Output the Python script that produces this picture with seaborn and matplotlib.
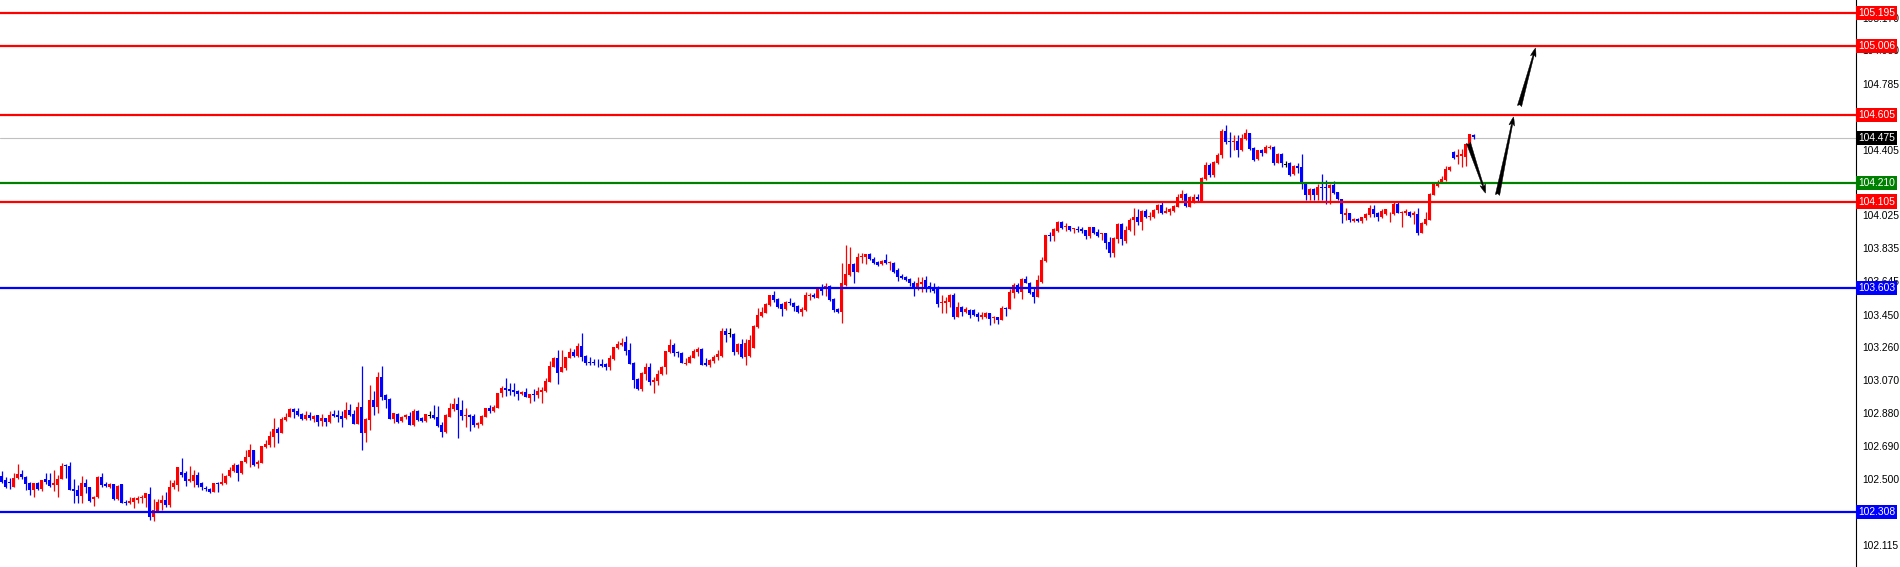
import numpy as np
import pandas as pd
import matplotlib
matplotlib.use("Agg")
import matplotlib.pyplot as plt
import seaborn as sns

# === 1. candle data (one bar per 4 px) ===
opens = [
    102.516, 102.492, 102.483, 102.454, 102.502, 102.527, 102.512, 102.473, 102.434, 102.473,
    102.438, 102.496, 102.492, 102.463, 102.463, 102.496, 102.579, 102.573, 102.438, 102.434,
    102.400, 102.473, 102.454, 102.381, 102.392, 102.512, 102.469, 102.454, 102.469, 102.381,
    102.469, 102.367, 102.357, 102.367, 102.377, 102.386, 102.386, 102.411, 102.276, 102.315,
    102.361, 102.377, 102.348, 102.454, 102.463, 102.541, 102.531, 102.489, 102.489, 102.521,
    102.473, 102.444, 102.438, 102.425, 102.477, 102.467, 102.473, 102.516, 102.546, 102.579,
    102.531, 102.599, 102.624, 102.666, 102.585, 102.591, 102.682, 102.695, 102.744, 102.788,
    102.767, 102.840, 102.856, 102.902, 102.892, 102.873, 102.846, 102.869, 102.846, 102.869,
    102.836, 102.854, 102.830, 102.875, 102.869, 102.863, 102.850, 102.898, 102.875, 102.817,
    102.913, 102.767, 102.840, 102.956, 102.913, 103.087, 102.985, 102.962, 102.846, 102.875,
    102.834, 102.855, 102.865, 102.811, 102.892, 102.854, 102.834, 102.865, 102.869, 102.855,
    102.811, 102.772, 102.859, 102.902, 102.933, 102.898, 102.865, 102.869, 102.863, 102.811,
    102.817, 102.859, 102.908, 102.894, 102.911, 102.994, 103.023, 103.018, 103.014, 103.008,
    102.991, 103.004, 102.965, 102.991, 102.985, 103.004, 103.008, 103.062, 103.149, 103.197,
    103.120, 103.139, 103.201, 103.236, 103.211, 103.268, 103.211, 103.178, 103.178, 103.172,
    103.162, 103.162, 103.149, 103.191, 103.255, 103.274, 103.293, 103.245, 103.172, 103.075,
    103.017, 103.106, 103.149, 103.062, 103.068, 103.106, 103.145, 103.236, 103.274, 103.234,
    103.230, 103.164, 103.172, 103.197, 103.236, 103.249, 103.168, 103.158, 103.183, 103.203,
    103.210, 103.355, 103.336, 103.338, 103.236, 103.280, 103.207, 103.210, 103.255, 103.376,
    103.442, 103.461, 103.506, 103.564, 103.539, 103.512, 103.481, 103.525, 103.519, 103.500,
    103.467, 103.477, 103.558, 103.564, 103.548, 103.608, 103.608, 103.616, 103.539, 103.481,
    103.467, 103.622, 103.679, 103.743, 103.699, 103.782, 103.782, 103.801, 103.770, 103.757,
    103.743, 103.766, 103.747, 103.751, 103.708, 103.674, 103.670, 103.655, 103.635, 103.608,
    103.628, 103.651, 103.616, 103.608, 103.612, 103.516, 103.516, 103.525, 103.564, 103.435,
    103.496, 103.467, 103.477, 103.477, 103.454, 103.435, 103.435, 103.458, 103.429, 103.435,
    103.419, 103.490, 103.483, 103.577, 103.622, 103.583, 103.655, 103.631, 103.583, 103.554,
    103.641, 103.763, 103.911, 103.905, 103.936, 103.988, 103.956, 103.963, 103.944, 103.948,
    103.944, 103.940, 103.905, 103.956, 103.931, 103.917, 103.925, 103.873, 103.809, 103.888,
    103.975, 103.878, 103.940, 103.998, 104.017, 103.988, 104.052, 104.014, 104.014, 104.056,
    104.085, 104.041, 104.046, 104.052, 104.071, 104.124, 104.149, 104.075, 104.098, 104.129,
    104.110, 104.233, 104.316, 104.258, 104.330, 104.374, 104.515, 104.457, 104.451, 104.457,
    104.403, 104.465, 104.500, 104.413, 104.349, 104.403, 104.388, 104.413, 104.422, 104.330,
    104.380, 104.316, 104.330, 104.264, 104.310, 104.303, 104.214, 104.143, 104.175, 104.143,
    104.191, 104.191, 104.181, 104.200, 104.162, 104.117, 104.027, 104.040, 103.994, 104.002,
    103.994, 104.007, 104.027, 104.060, 104.040, 104.013, 104.033, 104.036, 104.033, 104.090,
    104.040, 104.040, 104.046, 104.027, 104.033, 103.924, 103.975, 103.998, 104.143, 104.195,
    104.214, 104.229, 104.287, 104.393, 104.361, 104.368, 104.365, 104.432, 104.490,
]
highs = [
    102.546, 102.512, 102.502, 102.535, 102.585, 102.550, 102.516, 102.483, 102.477, 102.483,
    102.492, 102.531, 102.531, 102.550, 102.521, 102.593, 102.585, 102.599, 102.496, 102.463,
    102.516, 102.496, 102.454, 102.400, 102.516, 102.535, 102.483, 102.477, 102.469, 102.463,
    102.469, 102.377, 102.396, 102.396, 102.400, 102.406, 102.419, 102.454, 102.381, 102.381,
    102.406, 102.425, 102.492, 102.492, 102.570, 102.618, 102.546, 102.573, 102.550, 102.541,
    102.483, 102.458, 102.444, 102.477, 102.483, 102.531, 102.521, 102.570, 102.589, 102.585,
    102.604, 102.666, 102.701, 102.666, 102.608, 102.689, 102.724, 102.778, 102.850, 102.801,
    102.856, 102.879, 102.908, 102.908, 102.908, 102.879, 102.892, 102.884, 102.869, 102.869,
    102.875, 102.854, 102.894, 102.898, 102.898, 102.894, 102.946, 102.933, 102.898, 102.946,
    103.153, 102.850, 103.043, 103.010, 103.120, 103.153, 102.991, 102.965, 102.882, 102.879,
    102.863, 102.875, 102.884, 102.902, 102.898, 102.859, 102.875, 102.892, 102.927, 102.921,
    102.830, 102.873, 102.936, 102.965, 102.975, 102.956, 102.908, 102.875, 102.873, 102.830,
    102.869, 102.911, 102.927, 102.927, 102.998, 103.037, 103.081, 103.056, 103.052, 103.014,
    103.010, 103.023, 102.991, 103.018, 103.033, 103.033, 103.085, 103.184, 103.207, 103.245,
    103.245, 103.207, 103.255, 103.249, 103.284, 103.342, 103.216, 103.203, 103.191, 103.191,
    103.191, 103.172, 103.216, 103.265, 103.299, 103.313, 103.326, 103.284, 103.178, 103.081,
    103.120, 103.172, 103.168, 103.091, 103.129, 103.153, 103.241, 103.311, 103.284, 103.241,
    103.236, 103.197, 103.216, 103.249, 103.261, 103.255, 103.197, 103.191, 103.216, 103.245,
    103.371, 103.371, 103.371, 103.342, 103.284, 103.307, 103.307, 103.332, 103.390, 103.486,
    103.492, 103.515, 103.564, 103.589, 103.544, 103.519, 103.531, 103.544, 103.525, 103.506,
    103.492, 103.583, 103.577, 103.573, 103.608, 103.627, 103.635, 103.622, 103.544, 103.486,
    103.747, 103.853, 103.844, 103.751, 103.809, 103.809, 103.801, 103.809, 103.782, 103.762,
    103.766, 103.801, 103.762, 103.757, 103.718, 103.685, 103.674, 103.660, 103.647, 103.670,
    103.670, 103.674, 103.641, 103.631, 103.616, 103.564, 103.554, 103.570, 103.574, 103.523,
    103.500, 103.492, 103.481, 103.481, 103.467, 103.467, 103.467, 103.462, 103.442, 103.438,
    103.500, 103.496, 103.597, 103.631, 103.631, 103.660, 103.674, 103.641, 103.602, 103.680,
    103.786, 103.911, 103.930, 103.950, 103.994, 103.994, 103.979, 103.963, 103.950, 103.963,
    103.960, 103.940, 103.960, 103.960, 103.944, 103.925, 103.925, 103.902, 103.898, 103.979,
    103.983, 103.963, 104.008, 104.066, 104.060, 104.056, 104.060, 104.046, 104.060, 104.091,
    104.104, 104.075, 104.066, 104.085, 104.149, 104.172, 104.153, 104.137, 104.149, 104.149,
    104.245, 104.336, 104.330, 104.341, 104.384, 104.523, 104.548, 104.509, 104.490, 104.490,
    104.496, 104.523, 104.503, 104.419, 104.403, 104.407, 104.432, 104.432, 104.426, 104.384,
    104.384, 104.341, 104.336, 104.316, 104.326, 104.380, 104.220, 104.181, 104.181, 104.206,
    104.264, 104.229, 104.206, 104.226, 104.162, 104.117, 104.065, 104.040, 104.007, 104.007,
    104.017, 104.040, 104.085, 104.085, 104.046, 104.060, 104.060, 104.046, 104.104, 104.104,
    104.052, 104.060, 104.052, 104.052, 104.065, 103.988, 104.046, 104.152, 104.220, 104.229,
    104.253, 104.310, 104.310, 104.399, 104.407, 104.407, 104.442, 104.496, 104.496,
]
lows = [
    102.477, 102.444, 102.438, 102.454, 102.496, 102.496, 102.434, 102.405, 102.396, 102.434,
    102.431, 102.469, 102.454, 102.431, 102.392, 102.496, 102.502, 102.434, 102.361, 102.357,
    102.361, 102.415, 102.367, 102.342, 102.386, 102.454, 102.450, 102.444, 102.377, 102.377,
    102.357, 102.348, 102.353, 102.328, 102.361, 102.357, 102.338, 102.261, 102.257, 102.309,
    102.319, 102.338, 102.338, 102.438, 102.431, 102.512, 102.458, 102.483, 102.454, 102.454,
    102.434, 102.431, 102.419, 102.425, 102.425, 102.463, 102.469, 102.512, 102.541, 102.489,
    102.527, 102.593, 102.566, 102.573, 102.560, 102.589, 102.676, 102.682, 102.686, 102.709,
    102.767, 102.836, 102.856, 102.850, 102.863, 102.840, 102.840, 102.840, 102.830, 102.805,
    102.805, 102.805, 102.825, 102.855, 102.830, 102.801, 102.844, 102.863, 102.817, 102.817,
    102.666, 102.715, 102.782, 102.869, 102.882, 102.956, 102.908, 102.846, 102.821, 102.821,
    102.830, 102.846, 102.811, 102.805, 102.836, 102.830, 102.830, 102.850, 102.844, 102.801,
    102.740, 102.767, 102.855, 102.894, 102.738, 102.840, 102.801, 102.778, 102.801, 102.792,
    102.811, 102.855, 102.879, 102.888, 102.908, 102.975, 102.979, 102.985, 102.979, 102.956,
    102.985, 102.971, 102.936, 102.952, 102.965, 102.940, 103.004, 103.062, 103.145, 103.048,
    103.120, 103.130, 103.197, 103.207, 103.207, 103.184, 103.158, 103.158, 103.158, 103.149,
    103.149, 103.129, 103.129, 103.187, 103.249, 103.268, 103.216, 103.164, 103.023, 103.014,
    103.010, 103.072, 103.043, 102.998, 103.043, 103.100, 103.106, 103.230, 103.210, 103.207,
    103.168, 103.158, 103.168, 103.197, 103.210, 103.158, 103.153, 103.145, 103.168, 103.187,
    103.207, 103.293, 103.322, 103.216, 103.222, 103.197, 103.158, 103.207, 103.255, 103.371,
    103.438, 103.458, 103.500, 103.525, 103.486, 103.442, 103.477, 103.506, 103.473, 103.458,
    103.442, 103.473, 103.535, 103.544, 103.544, 103.564, 103.558, 103.531, 103.467, 103.461,
    103.403, 103.616, 103.674, 103.635, 103.699, 103.747, 103.743, 103.766, 103.743, 103.732,
    103.737, 103.743, 103.708, 103.689, 103.647, 103.655, 103.647, 103.616, 103.558, 103.593,
    103.583, 103.583, 103.583, 103.577, 103.492, 103.462, 103.462, 103.496, 103.423, 103.435,
    103.442, 103.458, 103.429, 103.442, 103.415, 103.423, 103.429, 103.390, 103.400, 103.396,
    103.419, 103.442, 103.481, 103.545, 103.574, 103.539, 103.631, 103.570, 103.519, 103.550,
    103.635, 103.757, 103.878, 103.878, 103.931, 103.944, 103.936, 103.936, 103.925, 103.931,
    103.921, 103.886, 103.892, 103.917, 103.898, 103.882, 103.828, 103.786, 103.786, 103.863,
    103.853, 103.863, 103.936, 103.911, 103.969, 103.940, 104.008, 103.998, 104.008, 104.037,
    104.033, 104.037, 104.027, 104.046, 104.071, 104.114, 104.071, 104.071, 104.095, 104.104,
    104.110, 104.229, 104.249, 104.249, 104.322, 104.355, 104.438, 104.364, 104.403, 104.361,
    104.399, 104.461, 104.403, 104.341, 104.345, 104.368, 104.384, 104.407, 104.316, 104.326,
    104.303, 104.303, 104.253, 104.258, 104.268, 104.175, 104.114, 104.114, 104.114, 104.114,
    104.114, 104.090, 104.090, 104.148, 104.114, 103.982, 103.998, 103.988, 103.988, 103.988,
    103.982, 103.998, 104.017, 104.017, 103.994, 104.007, 104.027, 103.988, 104.027, 104.036,
    103.955, 104.027, 104.017, 103.975, 103.911, 103.924, 103.969, 103.998, 104.143, 104.191,
    104.210, 104.226, 104.283, 104.349, 104.322, 104.307, 104.310, 104.426, 104.465,
]
closes = [
    102.483, 102.454, 102.473, 102.502, 102.527, 102.508, 102.469, 102.434, 102.473, 102.440,
    102.492, 102.483, 102.458, 102.473, 102.496, 102.573, 102.573, 102.434, 102.431, 102.400,
    102.477, 102.450, 102.373, 102.396, 102.512, 102.463, 102.460, 102.467, 102.381, 102.460,
    102.361, 102.357, 102.373, 102.386, 102.390, 102.396, 102.415, 102.276, 102.319, 102.367,
    102.377, 102.348, 102.454, 102.477, 102.566, 102.521, 102.489, 102.496, 102.521, 102.463,
    102.454, 102.438, 102.425, 102.473, 102.467, 102.483, 102.516, 102.550, 102.579, 102.531,
    102.604, 102.628, 102.666, 102.579, 102.599, 102.689, 102.701, 102.747, 102.788, 102.767,
    102.846, 102.859, 102.902, 102.888, 102.869, 102.844, 102.869, 102.854, 102.863, 102.830,
    102.854, 102.830, 102.869, 102.865, 102.859, 102.846, 102.898, 102.869, 102.817, 102.913,
    102.767, 102.844, 102.956, 102.913, 103.087, 102.975, 102.956, 102.846, 102.879, 102.830,
    102.859, 102.869, 102.811, 102.892, 102.840, 102.834, 102.873, 102.865, 102.850, 102.805,
    102.772, 102.869, 102.908, 102.933, 102.898, 102.863, 102.869, 102.859, 102.811, 102.821,
    102.863, 102.908, 102.894, 102.913, 102.994, 103.023, 103.014, 103.008, 103.004, 102.991,
    103.004, 102.975, 102.991, 102.985, 103.008, 103.014, 103.066, 103.153, 103.197, 103.114,
    103.149, 103.203, 103.236, 103.211, 103.268, 103.207, 103.168, 103.168, 103.168, 103.168,
    103.153, 103.149, 103.197, 103.261, 103.280, 103.288, 103.241, 103.164, 103.072, 103.017,
    103.110, 103.149, 103.062, 103.072, 103.106, 103.149, 103.241, 103.274, 103.230, 103.226,
    103.172, 103.172, 103.203, 103.241, 103.249, 103.158, 103.158, 103.187, 103.207, 103.222,
    103.355, 103.332, 103.336, 103.236, 103.280, 103.203, 103.288, 103.303, 103.384, 103.448,
    103.467, 103.512, 103.564, 103.535, 103.496, 103.481, 103.525, 103.515, 103.492, 103.467,
    103.483, 103.564, 103.564, 103.550, 103.602, 103.589, 103.616, 103.535, 103.477, 103.467,
    103.631, 103.685, 103.743, 103.699, 103.782, 103.786, 103.801, 103.770, 103.751, 103.737,
    103.762, 103.751, 103.757, 103.699, 103.666, 103.660, 103.651, 103.635, 103.597, 103.631,
    103.641, 103.612, 103.602, 103.589, 103.512, 103.525, 103.531, 103.564, 103.435, 103.496,
    103.467, 103.481, 103.448, 103.448, 103.435, 103.448, 103.462, 103.423, 103.438, 103.419,
    103.490, 103.483, 103.583, 103.622, 103.583, 103.655, 103.635, 103.577, 103.554, 103.651,
    103.767, 103.911, 103.905, 103.944, 103.988, 103.950, 103.963, 103.940, 103.950, 103.940,
    103.936, 103.905, 103.956, 103.925, 103.905, 103.925, 103.867, 103.809, 103.892, 103.975,
    103.888, 103.940, 103.998, 104.017, 103.988, 104.052, 104.014, 104.021, 104.056, 104.085,
    104.037, 104.052, 104.060, 104.079, 104.129, 104.149, 104.079, 104.129, 104.129, 104.118,
    104.239, 104.316, 104.258, 104.336, 104.374, 104.515, 104.451, 104.451, 104.457, 104.403,
    104.471, 104.500, 104.407, 104.345, 104.403, 104.388, 104.419, 104.422, 104.330, 104.380,
    104.326, 104.316, 104.258, 104.310, 104.297, 104.206, 104.143, 104.175, 104.143, 104.191,
    104.181, 104.181, 104.200, 104.156, 104.117, 104.033, 104.040, 103.998, 104.002, 103.994,
    104.013, 104.033, 104.065, 104.033, 104.013, 104.052, 104.060, 104.040, 104.090, 104.040,
    104.046, 104.052, 104.021, 104.040, 103.924, 103.979, 104.002, 104.148, 104.206, 104.220,
    104.233, 104.291, 104.307, 104.355, 104.374, 104.380, 104.438, 104.496, 104.477,
]

# horizontal levels and their colours
level_prices = [105.195, 105.006, 104.605, 104.210, 104.105, 103.603, 102.308]
level_colors = ["#ff0000", "#ff0000", "#ff0000", "#008000", "#ff0000", "#0000ff", "#0000ff"]
bid_price = 104.475

# price scale labels that show (some are partly under the level boxes)
tick_values = [105.170, 104.980, 104.785, 104.405, 104.025, 103.835, 103.645,
               103.450, 103.260, 103.070, 102.880, 102.690, 102.500, 102.115]

# forecast arrows: (bar index, price) tail -> head
arrow_tails = [(366.75, 104.444), (374.0, 104.143), (379.5, 104.658)]
arrow_heads = [(371.0, 104.154), (378.0, 104.595), (383.5, 104.994)]

df = pd.DataFrame({"open": opens, "high": highs, "low": lows, "close": closes})
df["bar"] = np.arange(len(df))
df["dir"] = np.sign(df["close"] - df["open"])
color_map = {1.0: "#ff0000", -1.0: "#0000ff", 0.0: "#000000"}
df["color"] = df["dir"].map(color_map)

# === 2. figure ===
sns.set_theme(style="white")
plt.rcParams["font.family"] = ["Liberation Sans", "DejaVu Sans"]

fig = plt.figure(figsize=(19, 5.67), dpi=100)
ax = fig.add_axes([0, 0, 1856 / 1900, 1])

# wicks
ax.vlines(df["bar"], df["low"], df["high"], colors=df["color"], lw=0.9, zorder=2)
# bodies
body_low = df[["open", "close"]].min(axis=1)
body_h = (df["close"] - df["open"]).abs().clip(lower=0.005)
ax.bar(df["bar"], body_h, bottom=body_low, width=0.8, color=df["color"],
       linewidth=0, zorder=2)

# levels
for p, c in zip(level_prices, level_colors):
    ax.axhline(p, color=c, lw=1.6, zorder=3)
ax.axhline(bid_price, color="#c0c0c0", lw=0.8, zorder=1)

# arrows
for t, h in zip(arrow_tails, arrow_heads):
    ax.annotate("", xy=h, xytext=t,
                arrowprops=dict(arrowstyle="fancy,head_length=0.7,head_width=0.45,tail_width=0.35",
                                color="black", lw=0.3, mutation_scale=9, shrinkA=0, shrinkB=0),
                zorder=4)

ax.set_xlim(-0.375, 463.625)
ax.set_ylim(101.989, 105.272)
ax.set_xticks([])

ax.yaxis.tick_right()
ax.set_yticks(tick_values)
ax.set_yticklabels([f"{v:.3f}" for v in tick_values], fontsize=7.4, color="black")
ax.tick_params(axis="y", direction="out", length=3, width=0.8, pad=1.5, colors="black")

sns.despine(ax=ax, left=True, top=True, bottom=True, right=False)
ax.spines["right"].set_color("black")
ax.spines["right"].set_linewidth(0.8)

# price labels on the axis
ytrans = ax.get_yaxis_transform()
for p, c in zip(level_prices + [bid_price], level_colors + ["#000000"]):
    ax.text(1.0012, p, f"{p:.3f}", transform=ytrans, ha="left", va="center",
            fontsize=7.4, color="white", clip_on=False, zorder=6,
            bbox=dict(boxstyle="square,pad=0.2", facecolor=c, edgecolor="none"))

fig.savefig("out.png", dpi=100)
